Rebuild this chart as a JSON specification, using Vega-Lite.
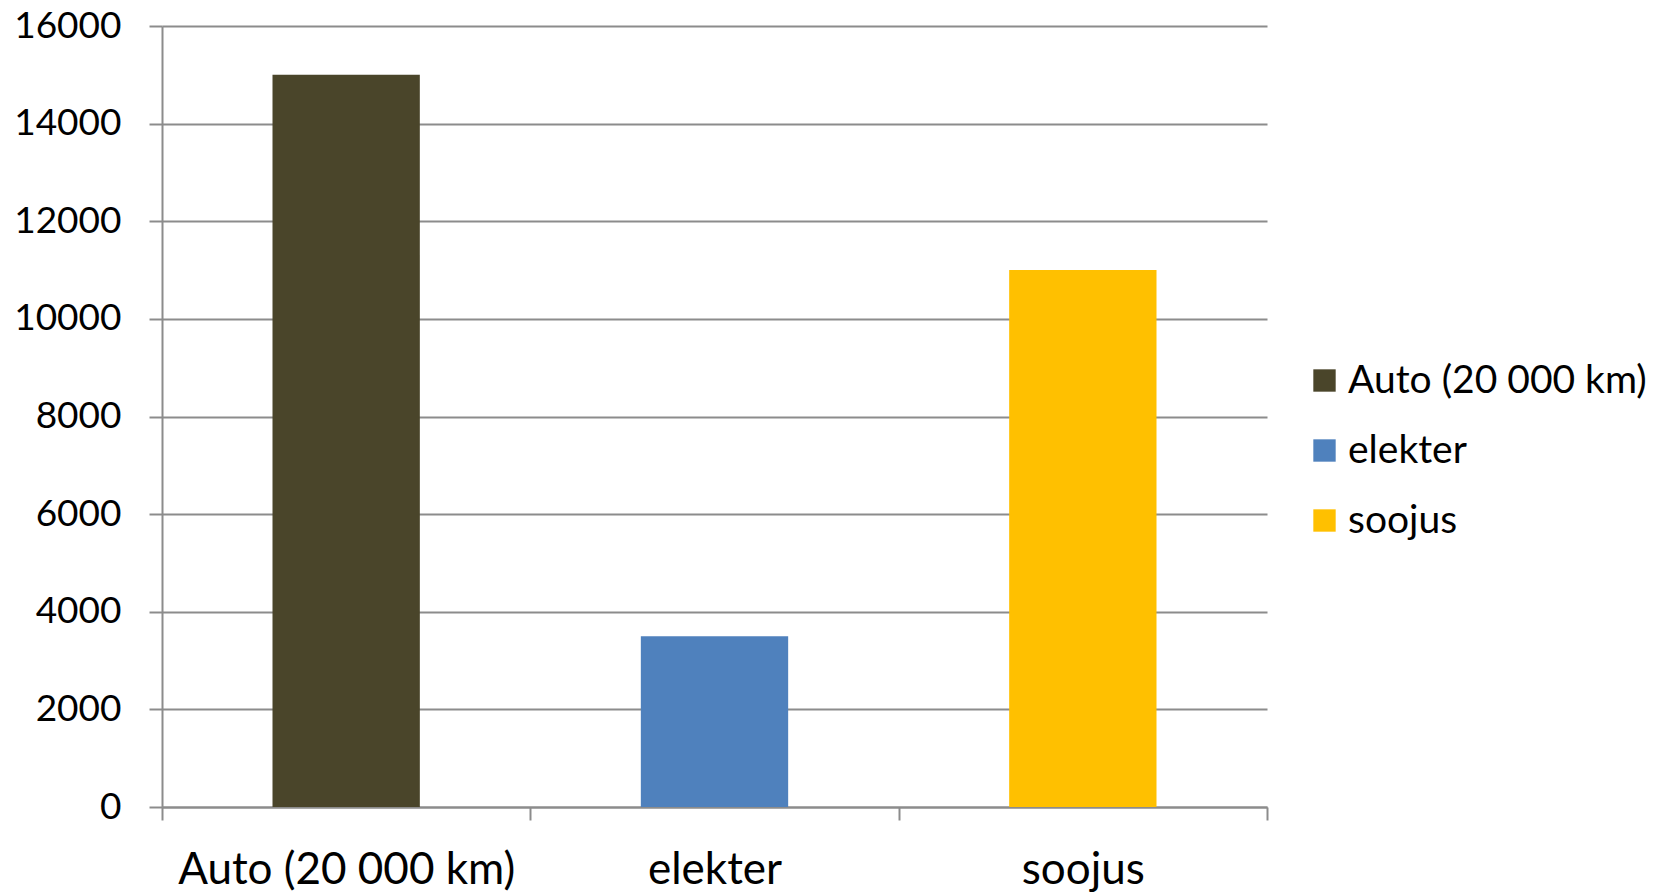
{
  "$schema": "https://vega.github.io/schema/vega-lite/v6.json",
  "autosize": "none",
  "width": 1105,
  "height": 781,
  "padding": {"left": 162, "top": 26, "right": 399, "bottom": 87},
  "background": "white",
  "config": {
    "view": {"stroke": null},
    "font": "Lato"
  },
  "data": {
    "values": [
      {"kategooria": "Auto (20 000 km)", "vaartus": 15000},
      {"kategooria": "elekter", "vaartus": 3500},
      {"kategooria": "soojus", "vaartus": 11000}
    ]
  },
  "mark": {"type": "bar", "width": {"band": 0.4}},
  "encoding": {
    "x": {
      "field": "kategooria",
      "type": "nominal",
      "sort": null,
      "scale": {"paddingInner": 0, "paddingOuter": 0},
      "axis": {
        "title": null,
        "labelAngle": 0,
        "labelFont": "Lato",
        "labelFontSize": 44,
        "labelColor": "#000000",
        "labelPadding": 28,
        "labelLimit": 500,
        "tickBand": "extent",
        "tickSize": 13,
        "tickColor": "#8c8c8c",
        "tickWidth": 2,
        "domainColor": "#8c8c8c",
        "domainWidth": 2,
        "grid": false
      }
    },
    "y": {
      "field": "vaartus",
      "type": "quantitative",
      "scale": {"domain": [0, 16000], "nice": false},
      "axis": {
        "title": null,
        "values": [0, 2000, 4000, 6000, 8000, 10000, 12000, 14000, 16000],
        "format": "d",
        "labelFont": "Lato",
        "labelFontSize": 37,
        "labelColor": "#000000",
        "labelPadding": 28,
        "tickSize": 13,
        "tickColor": "#8c8c8c",
        "tickWidth": 2,
        "domainColor": "#8c8c8c",
        "domainWidth": 2,
        "grid": true,
        "gridColor": "#8c8c8c",
        "gridWidth": 2
      }
    },
    "color": {
      "field": "kategooria",
      "type": "nominal",
      "sort": null,
      "scale": {
        "domain": ["Auto (20 000 km)", "elekter", "soojus"],
        "range": ["#4a452a", "#4f81bd", "#ffc000"]
      },
      "legend": {
        "title": null,
        "orient": "none",
        "legendX": 1143,
        "legendY": 335,
        "symbolType": "square",
        "symbolSize": 500,
        "symbolStrokeWidth": 0,
        "labelFont": "Lato",
        "labelFontSize": 39,
        "labelColor": "#000000",
        "labelOffset": 4,
        "rowPadding": 30,
        "labelLimit": 500
      }
    }
  }
}
